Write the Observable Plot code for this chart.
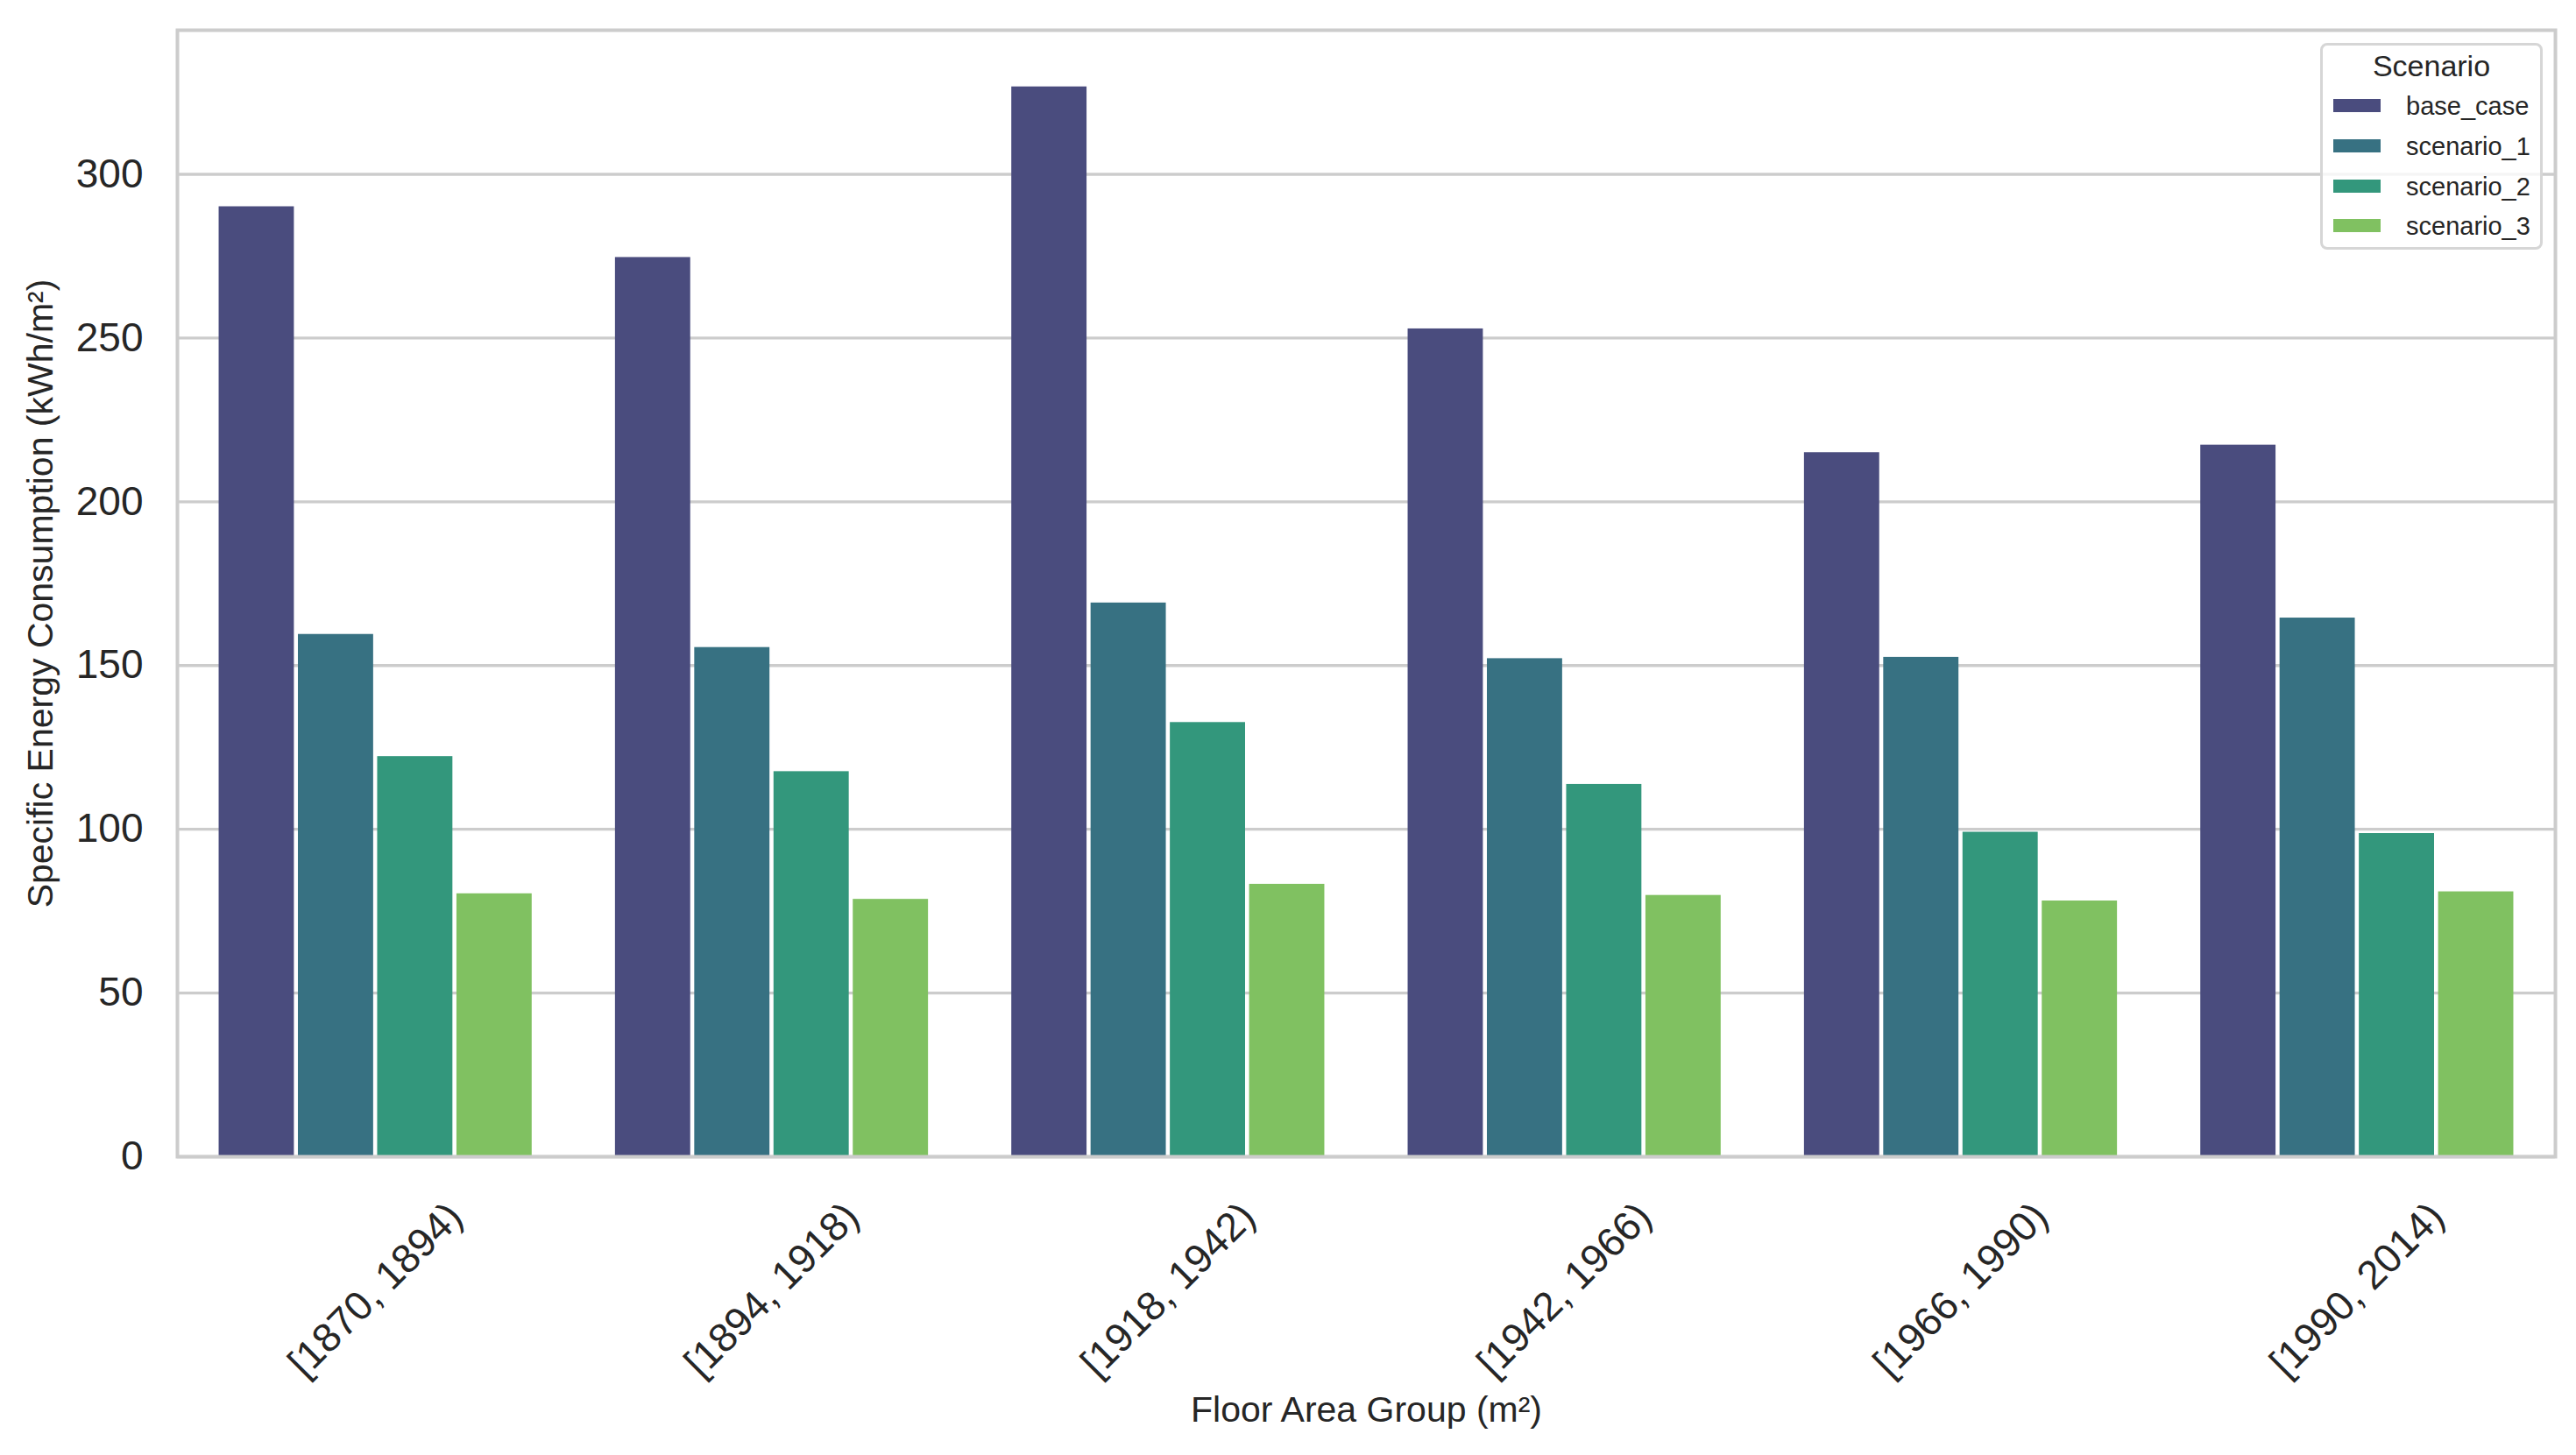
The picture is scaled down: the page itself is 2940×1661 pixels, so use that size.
<!DOCTYPE html>
<html>
<head>
<meta charset="utf-8">
<script src="https://cdn.jsdelivr.net/npm/d3@7"></script>
<script src="https://cdn.jsdelivr.net/npm/@observablehq/plot@0.6"></script>
<style>
  html, body { margin: 0; padding: 0; background: #ffffff; }
  #wrap { position: relative; width: 2940px; height: 1661px; font-family: "Liberation Sans", Arial, Helvetica, sans-serif; color: #262626; }
  #legend { position: absolute; left: 2648px; top: 49px; width: 254px; height: 236px; box-sizing: border-box;
            border: 3px solid #d6d6d6; border-radius: 8px; background: rgba(255,255,255,0.8); }
  #legend .title { position: absolute; left: 0; right: 0; top: 6px; text-align: center; font-size: 34px; line-height: 34px; }
  #legend .sw { position: absolute; left: 12px; width: 54px; height: 15px; }
  #legend .lab { position: absolute; left: 95px; font-size: 29px; line-height: 29px; white-space: nowrap; }
</style>
</head>
<body>
<div id="wrap"></div>
<script>
const groups = ["[1870, 1894)", "[1894, 1918)", "[1918, 1942)", "[1942, 1966)", "[1966, 1990)", "[1990, 2014)"];
const scenarios = ["base_case", "scenario_1", "scenario_2", "scenario_3"];
const baseCase  = [290.1, 274.6, 326.7, 252.8, 215.0, 217.3];
const scenario1 = [159.5, 155.5, 169.1, 152.1, 152.5, 164.5];
const scenario2 = [122.2, 117.6, 132.6, 113.7, 99.1, 98.7];
const scenario3 = [80.3, 78.6, 83.2, 79.8, 78.1, 80.9];
const colors = ["#4a4c7e", "#377182", "#33977c", "#80c161"];
const yTicks = [0, 50, 100, 150, 200, 250, 300];

const seriesValues = [baseCase, scenario1, scenario2, scenario3];
const rows = [];
groups.forEach((g, gi) => {
  scenarios.forEach((s, si) => {
    rows.push({group: g, gi, scenario: s, si, value: seriesValues[si][gi]});
  });
});

const ink = "#262626";
const grid = "#cccccc";
const barW = 0.8 / scenarios.length;

const chart = Plot.plot({
  width: 2940,
  height: 1661,
  marginTop: 34,
  marginRight: 24,
  marginBottom: 341,
  marginLeft: 202,
  style: {fontFamily: "'Liberation Sans', Arial, Helvetica, sans-serif", color: ink, background: "#ffffff"},
  x: {domain: [-0.5, groups.length - 0.5], axis: null},
  y: {domain: [0, 344]},
  color: {domain: scenarios, range: colors},
  marks: [
    Plot.ruleY(yTicks, {stroke: grid, strokeWidth: 3.3}),
    Plot.rect(rows, {
      x1: d => d.gi - 0.4 + d.si * barW,
      x2: d => d.gi - 0.4 + (d.si + 1) * barW,
      y1: 0,
      y2: "value",
      fill: "scenario",
      insetLeft: 2.3,
      insetRight: 2.3
    }),
    Plot.frame({stroke: grid, strokeWidth: 4}),
    Plot.axisY({ticks: yTicks, tickSize: 0, tickPadding: 39, fontSize: 46, label: null, fill: ink}),
    Plot.text(groups, {
      x: (d, i) => i,
      frameAnchor: "bottom",
      dy: 152,
      rotate: -45,
      textAnchor: "middle",
      lineAnchor: "middle",
      fontSize: 46,
      fill: ink
    }),
    Plot.text(["Floor Area Group (m²)"], {
      frameAnchor: "bottom",
      dy: 289,
      textAnchor: "middle",
      lineAnchor: "middle",
      fontSize: 41,
      fill: ink
    }),
    Plot.text(["Specific Energy Consumption (kWh/m²)"], {
      frameAnchor: "left",
      dx: -156,
      rotate: -90,
      textAnchor: "middle",
      lineAnchor: "middle",
      fontSize: 41,
      fill: ink
    })
  ]
});

const wrap = document.getElementById("wrap");
wrap.appendChild(chart);

// legend
const legend = document.createElement("div");
legend.id = "legend";
const title = document.createElement("div");
title.className = "title";
title.textContent = "Scenario";
legend.appendChild(title);
const rowCenters = [68.5, 114, 160, 205];
scenarios.forEach((s, i) => {
  const sw = document.createElement("div");
  sw.className = "sw";
  sw.style.top = (rowCenters[i] - 7.5) + "px";
  sw.style.background = colors[i];
  legend.appendChild(sw);
  const lab = document.createElement("div");
  lab.className = "lab";
  lab.style.top = (rowCenters[i] - 13.5) + "px";
  lab.textContent = s;
  legend.appendChild(lab);
});
wrap.appendChild(legend);
</script>
</body>
</html>
